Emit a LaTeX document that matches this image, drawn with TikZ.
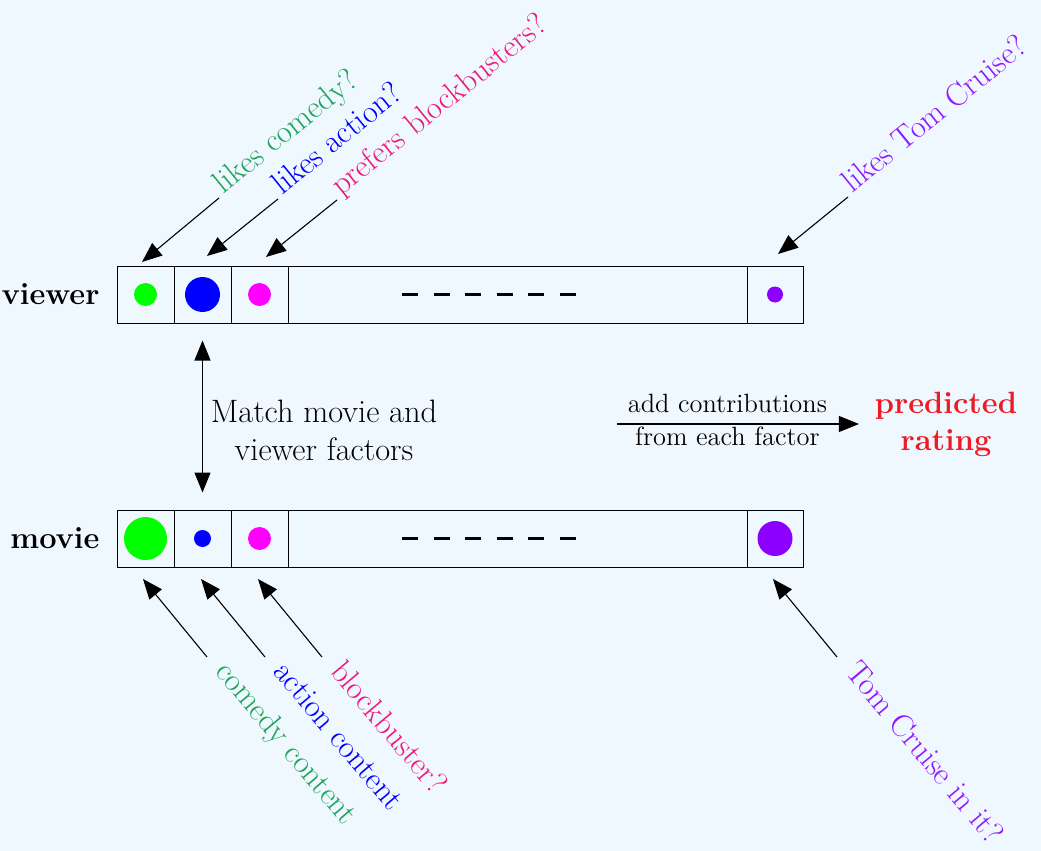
\documentclass[tikz,border=0pt]{standalone}
\usepackage{fontspec}
\usetikzlibrary{arrows.meta,positioning}

\definecolor{bgblue}{RGB}{240,248,255}
\definecolor{comedytxt}{RGB}{30,165,90}
\definecolor{blocktxt}{RGB}{236,25,125}
\definecolor{tomtxt}{RGB}{145,25,255}
\definecolor{dotgreen}{RGB}{0,255,0}
\definecolor{dotblue}{RGB}{0,0,255}
\definecolor{dotmag}{RGB}{255,0,255}
\definecolor{tomdot}{RGB}{140,0,255}
\definecolor{predred}{RGB}{237,28,36}

\begin{document}
\begin{tikzpicture}[x=0.5pt, y=-0.5pt,
    font=\fontsize{15.4}{19}\selectfont,
    cell/.style={draw, line width=0.5pt, minimum height=28.5pt, minimum width=28.5pt, inner sep=0pt},
    dot/.style={circle, inner sep=0pt},
    arr/.style={-{Triangle[length=10pt,width=8pt]}, line width=0.55pt},
    dblarr/.style={{Triangle[length=10pt,width=8pt]}-{Triangle[length=10pt,width=8pt]}, line width=0.55pt, shorten <=8.5pt, shorten >=8.5pt},
    toplab/.style={rotate=39, anchor=base west, inner xsep=2.5pt, font=\fontsize{16}{19}\selectfont},
    botlab/.style={rotate=-50, anchor=mid west, inner xsep=8pt, font=\fontsize{16}{19}\selectfont},
    sumlab/.style={font=\fontsize{13.2}{16}\selectfont},
    dashes/.style={line width=1.5pt, dash pattern=on 8pt off 7.8pt},
    rowlab/.style={font=\fontsize{15.4}{18.5}\selectfont\bfseries}]

  \fill[bgblue] (0,0) rectangle (1041,851);
  \useasboundingbox (0,0) rectangle (1041,851);

  %% viewer factors
  \node[cell] (v1) at (145.5,294.5) {};
  \node[cell] (v2) at (202.5,294.5) {};
  \node[cell] (v3) at (259.5,294.5) {};
  \node[cell, minimum width=229.5pt] (v4) at (517.5,294.5) {};
  \node[cell, minimum width=28pt] (v5) at (775,294.5) {};
  \node[dot, fill=dotgreen, minimum size=11.5pt] at (v1) {};
  \node[dot, fill=dotblue, minimum size=17.5pt] at (v2) {};
  \node[dot, fill=dotmag, minimum size=11.5pt] at (v3) {};
  \node[dot, fill=tomdot, minimum size=8pt] at (v5) {};
  \draw[dashes] (402,294.5) -- (576,294.5);
  \node[rowlab, left=5pt of v1] (viewer) {viewer};

  %% movie factors
  \node[cell] (m1) at (145.5,538.5) {};
  \node[cell] (m2) at (202.5,538.5) {};
  \node[cell] (m3) at (259.5,538.5) {};
  \node[cell, minimum width=229.5pt] (m4) at (517.5,538.5) {};
  \node[cell, minimum width=28pt] (m5) at (775,538.5) {};
  \node[dot, fill=dotgreen, minimum size=21.5pt] at (m1) {};
  \node[dot, fill=dotblue, minimum size=8.5pt] at (m2) {};
  \node[dot, fill=dotmag, minimum size=11.5pt] at (m3) {};
  \node[dot, fill=tomdot, minimum size=17.5pt] at (m5) {};
  \draw[dashes] (402,538.5) -- (576,538.5);
  \node[rowlab, left=5pt of m1] (movie) {movie};

  %% matching the two rows
  \draw[dblarr] (v2) -- (m2);
  \node[align=center, font=\fontsize{16.2}{19}\selectfont] (match) at (324,430) {Match movie and\\viewer factors};

  %% sum of the contributions
  \coordinate (sumfrom) at (617,424);
  \node[rowlab, text=predred, align=center] (pred) at (946,424) {predicted\\rating};
  \draw[arr, shorten >=4.5pt] (sumfrom) -- node[sumlab, pos=0.44, above=2pt] {add contributions}
    node[sumlab, pos=0.44, below=-2pt] {from each factor} (pred);

  %% questions about the viewer
  \coordinate (vt1) at (142,262);
  \coordinate (vt2) at (207,256);
  \coordinate (vt3) at (266,257);
  \coordinate (vt5) at (778,254);
  \node[toplab, text=comedytxt] (lcom) at (219,198) {likes comedy?};
  \node[toplab, text=dotblue] (lact) at (278,199) {likes action?};
  \node[toplab, text=blocktxt] (lblo) at (337,200) {prefers blockbusters?};
  \node[toplab, text=tomtxt] (ltom) at (848,197) {likes Tom Cruise?};
  \draw[arr] (lcom.base west) -- (vt1);
  \draw[arr] (lact.base west) -- (vt2);
  \draw[arr] (lblo.base west) -- (vt3);
  \draw[arr] (ltom.base west) -- (vt5);

  %% questions about the movie
  \coordinate (mt1) at (143,579);
  \coordinate (mt2) at (201,579);
  \coordinate (mt3) at (258,579);
  \coordinate (mt5) at (773,579);
  \node[botlab, text=comedytxt] (ccom) at (207,657) {comedy content};
  \node[botlab, text=dotblue] (cact) at (265,657) {action content};
  \node[botlab, text=blocktxt] (cblo) at (322,657) {blockbuster?};
  \node[botlab, text=tomtxt] (ctom) at (837,657) {Tom Cruise in it?};
  \draw[arr] (ccom.mid west) -- (mt1);
  \draw[arr] (cact.mid west) -- (mt2);
  \draw[arr] (cblo.mid west) -- (mt3);
  \draw[arr] (ctom.mid west) -- (mt5);
\end{tikzpicture}
\end{document}
